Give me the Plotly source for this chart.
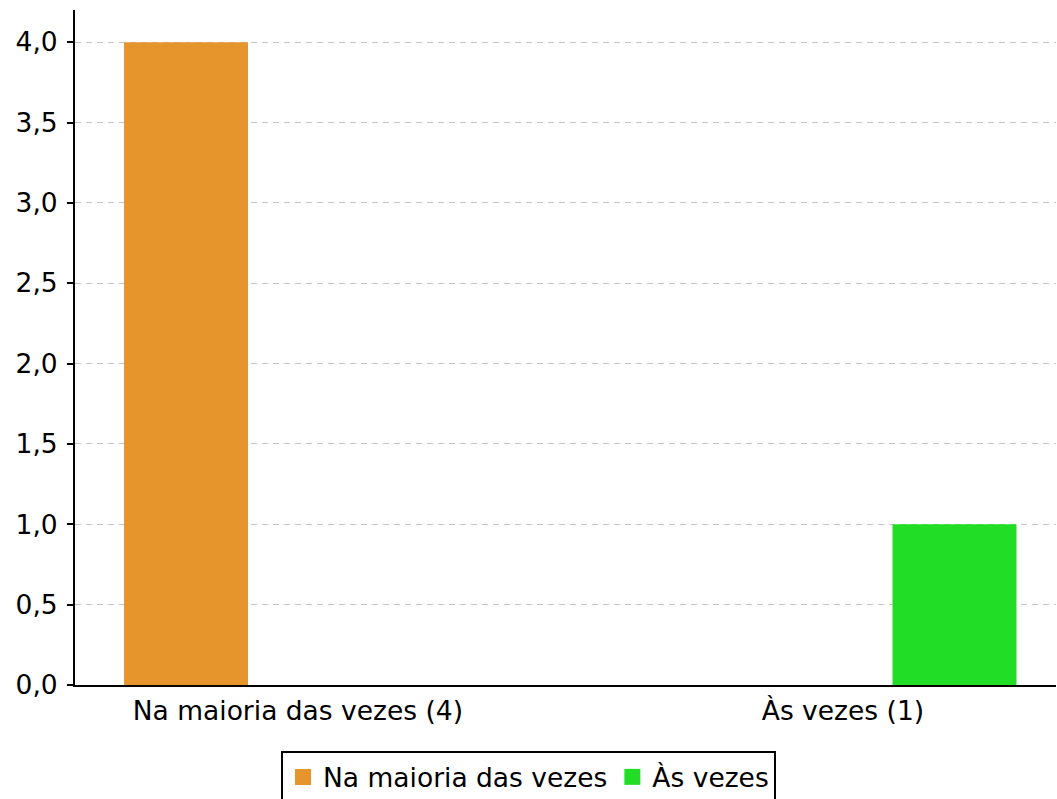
import plotly.graph_objects as go

categories = ["Na maioria das vezes (4)", "Às vezes (1)"]
series_names = ["Na maioria das vezes", "Às vezes"]
series_values = [4, 1]
series_colors = ["#e6942c", "#22dd26"]

fig = go.Figure()

# one bar per category, left slot for the first series, right slot for the second
offsets = [-0.319, 0.091]
for cat, name, val, color, off in zip(categories, series_names, series_values, series_colors, offsets):
    fig.add_trace(go.Bar(x=[cat], y=[val], name=name, marker_color=color,
                         marker_line_width=0, width=0.2275, offset=off,
                         showlegend=False))
    # legend entry with a bigger square
    fig.add_trace(go.Scatter(x=[None], y=[None], mode='markers', name=name,
                             marker=dict(symbol='square', size=22, color=color)))

fig.update_layout(
    width=1057, height=799,
    barmode='overlay',
    separators=',.',
    plot_bgcolor='white', paper_bgcolor='white',
    margin=dict(l=75, r=1, t=10, b=114, autoexpand=False),
    font=dict(family="DejaVu Sans", size=26.5, color='black'),
    legend=dict(orientation='h', x=0.4623, xanchor='center',
                y=-0.098, yanchor='top',
                bordercolor='black', borderwidth=2, bgcolor='white',
                font=dict(size=26.5), itemsizing='trace'),
)

fig.update_xaxes(type='category', categoryorder='array', categoryarray=categories,
                 range=[-0.409, 1.391], showline=True, linecolor='black', linewidth=2,
                 showgrid=False, ticks='', zeroline=False, ticklabelstandoff=1)
fig.update_yaxes(range=[0, 4.2], tickvals=[0, 0.5, 1, 1.5, 2, 2.5, 3, 3.5, 4],
                 tickformat='.1f', showline=True, linecolor='black', linewidth=2,
                 ticks='outside', ticklen=6, tickwidth=2, tickcolor='black',
                 showgrid=True, gridcolor='#c4c4c4', gridwidth=1, griddash='6px,5px',
                 zeroline=False, ticklabelstandoff=4)

# drop the default body margin so the figure fills the window exactly
fig.write_html("out.html", config={'displayModeBar': False},
               post_script="document.body.style.margin='0';")
